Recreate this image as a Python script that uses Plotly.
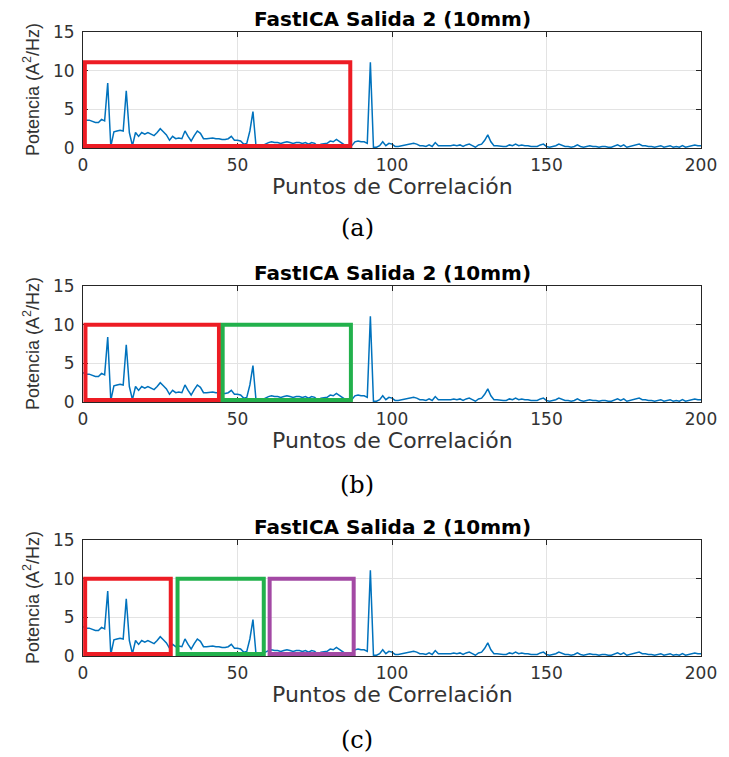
import plotly.graph_objects as go

# ---------------- data ----------------
x_points = list(range(0, 201))
power = [
    3.8, 3.6, 3.6, 3.4, 3.3, 3.3, 3.7, 3.5, 8.4, 0.2,
    2.1, 2.2, 2.3, 2.2, 7.4, 2.0, 0.3, 2.0, 1.5, 2.0,
    1.8, 2.0, 1.8, 1.6, 2.0, 2.5, 2.1, 1.7, 1.0, 1.5,
    1.2, 1.3, 1.2, 2.2, 1.5, 0.9, 1.6, 2.2, 1.9, 1.2,
    1.2, 1.3, 1.3, 1.2, 1.2, 1.1, 1.1, 1.2, 1.5, 1.0,
    1.0, 0.9, 0.5, 0.6, 2.2, 4.7, 0.2, 0.1, 0.3, 0.6,
    0.7, 0.8, 0.7, 0.7, 0.6, 0.7, 0.8, 0.7, 0.6, 0.7,
    0.7, 0.6, 0.7, 0.5, 0.7, 0.6, 0.2, 0.5, 0.6, 0.6,
    0.9, 0.8, 1.1, 0.8, 0.6, 0.3, 0.2, 0.3, 0.8, 0.9,
    0.8, 0.8, 0.6, 11.1, 0.1, 0.1, 0.3, 0.8, 0.3, 0.6,
    0.5, 0.2, 0.2, 0.3, 0.3, 0.4, 0.5, 0.6, 0.5, 0.3,
    0.3, 0.2, 0.4, 0.2, 0.7, 0.3, 0.3, 0.3, 0.3, 0.3,
    0.4, 0.3, 0.4, 0.2, 0.4, 0.5, 0.3, 0.1, 0.4, 0.5,
    1.0, 1.7, 0.8, 0.3, 0.3, 0.2, 0.2, 0.2, 0.4, 0.3,
    0.5, 0.3, 0.4, 0.3, 0.3, 0.2, 0.2, 0.2, 0.4, 0.5,
    0.2, 0.1, 0.2, 0.3, 0.5, 0.3, 0.2, 0.2, 0.1, 0.2,
    0.4, 0.2, 0.1, 0.2, 0.3, 0.2, 0.2, 0.1, 0.2, 0.2,
    0.1, 0.1, 0.2, 0.4, 0.2, 0.4, 0.1, 0.2, 0.3, 0.4,
    0.5, 0.3, 0.3, 0.2, 0.2, 0.1, 0.2, 0.3, 0.1, 0.2,
    0.3, 0.1, 0.2, 0.1, 0.3, 0.1, 0.2, 0.3, 0.4, 0.3,
    0.3,
]
x_ticks = [0, 50, 100, 150, 200]
y_ticks = [0, 5, 10, 15]
panel_title = "FastICA Salida 2 (10mm)"
x_label = "Puntos de Correlación"
y_label = "Potencia (A<sup>2</sup>/Hz)"
captions = ["(a)", "(b)", "(c)"]

# highlight boxes per panel: (x0, x1, y0, y1, colour)
boxes_a = [(0.6, 86.5, 0.25, 11.1, "#ED1C24")]
boxes_b = [(0.8, 44.0, 0.25, 10.0, "#ED1C24"),
           (45.2, 86.7, 0.25, 10.0, "#22B14C")]
boxes_c = [(0.7, 28.4, 0.25, 10.0, "#ED1C24"),
           (30.6, 58.5, 0.25, 10.0, "#22B14C"),
           (60.4, 87.6, 0.25, 10.0, "#A349A4")]
panel_boxes = [boxes_a, boxes_b, boxes_c]

# ---------------- layout geometry ----------------
W, H = 729, 757
ML, MR, MT, MB = 83, 20, 32, 101
plot_h = H - MT - MB
panel_px = [(32, 148), (286, 402), (540, 656)]  # top, bottom in pixels
caption_px = [228, 485, 740]


def py(p):
    return (H - MB - p) / plot_h


domains = [[py(b), py(t)] for t, b in panel_px]

fig = go.Figure()
tick_font = dict(family="DejaVu Sans", size=17, color="#333333")
ax_col = "#262626"

for i in range(3):
    sx = "" if i == 0 else str(i + 1)
    fig.add_trace(go.Scatter(
        x=x_points, y=power, mode="lines",
        line=dict(color="#0072BD", width=1.5),
        xaxis="x" + sx, yaxis="y" + sx, showlegend=False,
    ))
    fig.layout["xaxis" + sx] = dict(
        domain=[0, 1], range=[0, 200], anchor="y" + sx,
        tickvals=x_ticks, ticks="inside", ticklen=5, tickcolor=ax_col,
        showline=True, linecolor=ax_col, linewidth=1, mirror="ticks",
        showgrid=True, gridcolor="#e3e3e3", gridwidth=1,
        zeroline=False, tickfont=tick_font, ticklabelstandoff=2,
    )
    fig.layout["yaxis" + sx] = dict(
        domain=domains[i], range=[0, 15], anchor="x" + sx,
        tickvals=y_ticks, ticks="inside", ticklen=5, tickcolor=ax_col,
        showline=True, linecolor=ax_col, linewidth=1, mirror="ticks",
        showgrid=True, gridcolor="#e3e3e3", gridwidth=1,
        zeroline=False, tickfont=tick_font, ticklabelstandoff=4,
    )
    top, bot = domains[i][1], domains[i][0]
    # title
    fig.add_annotation(text="<b>" + panel_title + "</b>", xref="paper", yref="paper",
                       x=0.5, y=top, yshift=13, showarrow=False, yanchor="middle",
                       font=dict(family="DejaVu Sans", size=20, color="#000000"))
    # x label
    fig.add_annotation(text=x_label, xref="paper", yref="paper",
                       x=0.5, y=bot, yshift=-38, showarrow=False, yanchor="middle",
                       font=dict(family="DejaVu Sans", size=22, color="#333333"))
    # y label
    fig.add_annotation(text=y_label, xref="paper", yref="paper", textangle=-90,
                       x=0, y=(top + bot) / 2, xshift=-52, showarrow=False,
                       xanchor="center", yanchor="middle",
                       font=dict(family="Liberation Sans", size=18, color="#333333"))
    # caption
    fig.add_annotation(text=captions[i], xref="paper", yref="paper",
                       x=(361 - ML) / (W - ML - MR), y=py(caption_px[i]),
                       showarrow=False, xanchor="center", yanchor="middle",
                       font=dict(family="DejaVu Serif", size=24, color="#000000"))
    for (x0, x1, y0, y1, col) in panel_boxes[i]:
        fig.add_shape(type="rect", xref="x" + sx, yref="y" + sx,
                      x0=x0, x1=x1, y0=y0, y1=y1,
                      line=dict(color=col, width=4), layer="above")

fig.update_layout(
    width=W, height=H,
    margin=dict(l=ML, r=MR, t=MT, b=MB),
    paper_bgcolor="white", plot_bgcolor="white",
)

fig.write_html("out.html")
